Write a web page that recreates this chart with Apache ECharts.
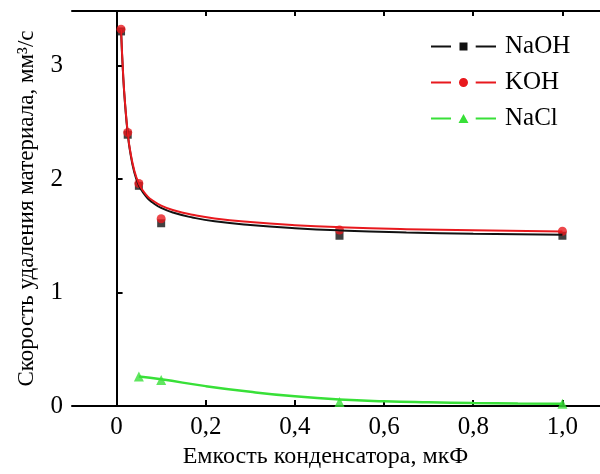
<!DOCTYPE html>
<html>
<head>
<meta charset="utf-8">
<script src="https://cdn.jsdelivr.net/npm/echarts@6/dist/echarts.min.js"></script>
<style>
  html, body { margin: 0; padding: 0; background: #fff; }
  #chart { width: 600px; height: 474px; }
</style>
</head>
<body>
<div id="chart"></div>
<script>
// измеренные точки
const pointX = [0.01, 0.025, 0.05, 0.1, 0.5, 1.0];
const naohPoints = [3.30, 2.39, 1.94, 1.61, 1.50, 1.50];
const kohPoints = [3.32, 2.41, 1.96, 1.65, 1.55, 1.54];
const naclPointX = [0.05, 0.1, 0.5, 1.0];
const naclPoints = [0.26, 0.23, 0.035, 0.02];

// аппроксимирующие кривые
const curveX = [0.01, 0.015, 0.02, 0.025, 0.03, 0.04, 0.05, 0.06, 0.07, 0.08, 0.1, 0.13, 0.17, 0.22, 0.3, 0.4, 0.5, 0.65, 0.8, 1.0];
const naohCurve = [3.31, 2.89, 2.61, 2.40, 2.25, 2.055, 1.945, 1.877, 1.828, 1.795, 1.745, 1.700, 1.661, 1.627, 1.594, 1.566, 1.547, 1.529, 1.518, 1.508];
const kohCurve = [3.32, 2.90, 2.62, 2.41, 2.26, 2.07, 1.96, 1.893, 1.845, 1.813, 1.765, 1.722, 1.685, 1.652, 1.620, 1.593, 1.575, 1.558, 1.548, 1.538];
const naclCurveX = [0.05, 0.1, 0.2, 0.3, 0.4, 0.5, 0.6, 0.7, 0.8, 0.9, 1.0];
const naclCurve = [0.26, 0.235, 0.175, 0.125, 0.085, 0.057, 0.041, 0.032, 0.026, 0.022, 0.019];

const xTicks = [0, 0.2, 0.4, 0.6, 0.8, 1.0];
const yTicks = [0, 1, 2, 3];
const names = ["NaOH", "KOH", "NaCl"];
const colors = ["#111111", "#e8191e", "#38e038"];

const font = "'Liberation Serif', 'DejaVu Serif', serif";

function zip(xs, ys) {
  return xs.map((x, i) => [x, ys[i]]);
}

// значки легенды: линия — маркер — линия
const lineParts = "M0 6h20v2h-20z M44.7 6h20.3v2h-20.3z ";
const icons = [
  "path://" + lineParts + "M28.5 3h8v8h-8z",
  "path://" + lineParts + "M28 7a4.5 4.5 0 1 0 9 0a4.5 4.5 0 1 0 -9 0z",
  "path://" + lineParts + "M32.5 2.5L37.5 11.5L27.5 11.5z",
];

const tickFmt = (v) => (v === 0 ? "0" : v.toFixed(1).replace(".", ","));

const chart = echarts.init(document.getElementById("chart"));
chart.setOption({
  animation: false,
  textStyle: { fontFamily: font, color: "#000" },
  grid: { left: 72, top: 11, right: -7, bottom: 68, outerBoundsMode: "none", containLabel: false },
  legend: {
    left: 426,
    top: 29,
    orient: "vertical",
    itemWidth: 65,
    itemHeight: 14,
    itemGap: 11,
    textStyle: { fontFamily: font, fontSize: 25, color: "#000", padding: [0, 0, 0, 4] },
    data: names.map((n, i) => ({ name: n, icon: icons[i] })),
  },
  xAxis: [
    {
      type: "value",
      min: -0.1,
      max: 1.1,
      name: "Емкость конденсатора, мкФ",
      nameLocation: "middle",
      nameGap: 39,
      nameTextStyle: { fontFamily: font, fontSize: 24, color: "#000", padding: [0, 28, 0, 0] },
      splitLine: { show: false },
      axisLine: { lineStyle: { color: "#000", width: 2 } },
      axisTick: { inside: true, length: 6, customValues: xTicks, lineStyle: { color: "#000", width: 2 } },
      axisLabel: { customValues: xTicks, formatter: tickFmt, fontFamily: font, fontSize: 25, color: "#000", margin: 9 },
    },
    {
      type: "value",
      position: "top",
      min: -0.1,
      max: 1.1,
      splitLine: { show: false },
      axisLine: { lineStyle: { color: "#000", width: 2 } },
      axisTick: { inside: true, length: 5, customValues: xTicks, lineStyle: { color: "#000", width: 2 } },
      axisLabel: { show: false },
    },
  ],
  yAxis: {
    type: "value",
    min: 0,
    max: 3.48,
    name: "Скорость удаления материала, мм³/с",
    nameLocation: "middle",
    nameGap: 34,
    nameTextStyle: { fontFamily: font, fontSize: 23, color: "#000" },
    splitLine: { show: false },
    axisLine: { lineStyle: { color: "#000", width: 2 } },
    axisTick: { inside: true, length: 6, customValues: yTicks, lineStyle: { color: "#000", width: 2 } },
    axisLabel: { customValues: yTicks, fontFamily: font, fontSize: 25, color: "#000", margin: 9 },
  },
  series: [
    {
      name: "NaOH",
      type: "line",
      data: zip(curveX, naohCurve),
      smooth: 0.5,
      showSymbol: false,
      color: colors[0],
      lineStyle: { width: 2 },
    },
    {
      name: "KOH",
      type: "line",
      data: zip(curveX, kohCurve),
      smooth: 0.5,
      showSymbol: false,
      color: colors[1],
      lineStyle: { width: 2 },
    },
    {
      name: "NaCl",
      type: "line",
      data: zip(naclCurveX, naclCurve),
      smooth: 0.5,
      showSymbol: false,
      color: colors[2],
      lineStyle: { width: 2.5 },
    },
    {
      name: "NaOH",
      type: "scatter",
      data: zip(pointX, naohPoints),
      symbol: "rect",
      symbolSize: 8,
      color: colors[0],
    },
    {
      name: "KOH",
      type: "scatter",
      data: zip(pointX, kohPoints),
      symbol: "circle",
      symbolSize: 9,
      color: colors[1],
    },
    {
      name: "NaCl",
      type: "scatter",
      data: zip(naclPointX, naclPoints),
      symbol: "triangle",
      symbolSize: 10,
      color: colors[2],
    },
  ],
});
</script>
</body>
</html>
